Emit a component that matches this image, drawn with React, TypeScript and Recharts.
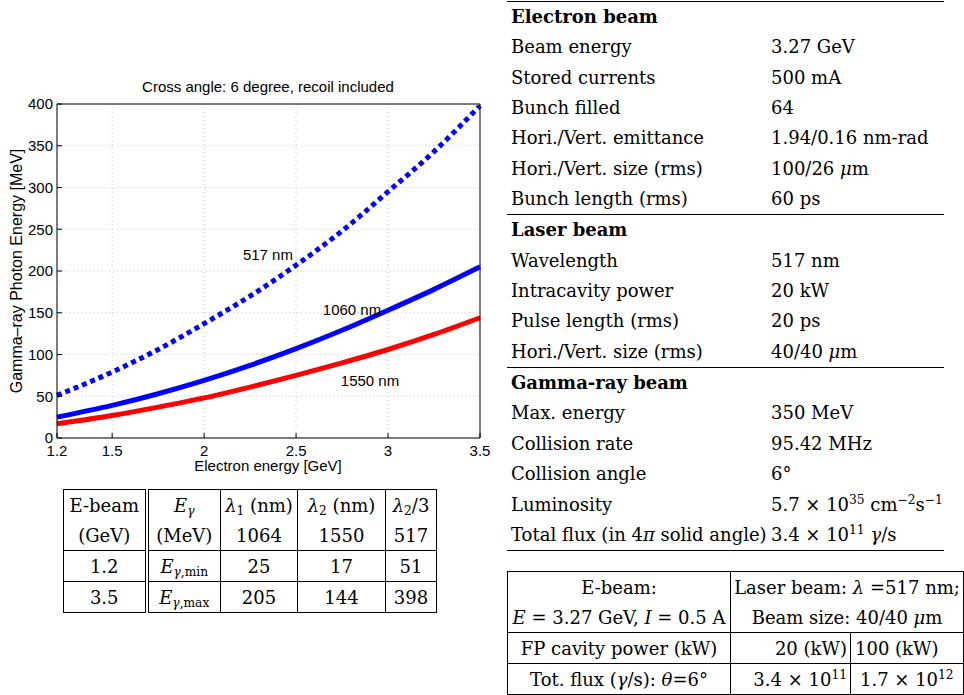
import React from 'react';
import { LineChart, Line, XAxis, YAxis, CartesianGrid, ReferenceDot } from 'recharts';

// electron energy (GeV)
const energies = [1.2, 1.5, 1.75, 2, 2.25, 2.5, 2.75, 3, 3.25, 3.5];
// gamma-ray photon energy (MeV)
const gamma1060 = [25, 39, 53, 69, 87, 107, 129, 153, 178, 205];
const gamma1550 = [17, 27, 37, 48, 61, 75, 90, 106, 124, 144];
const gamma517 = [51, 79, 106, 137, 170, 207, 248, 295, 343, 398];

const xTicks = [1.2, 1.5, 2, 2.5, 3, 3.5];
const yTicks = [0, 50, 100, 150, 200, 250, 300, 350, 400];

const data = energies.map((x, i) => ({ x, a: gamma1060[i], b: gamma1550[i], c: gamma517[i] }));

const sans = '"Liberation Sans", Arial, sans-serif';
const serif = '"DejaVu Serif", serif';

const I = ({ children }: { children: React.ReactNode }) => <span style={{ fontStyle: 'italic' }}>{children}</span>;
const Sup = ({ children }: { children: React.ReactNode }) => (
    <sup style={{ fontSize: '68%', lineHeight: 0, verticalAlign: '0.55em' }}>{children}</sup>
);
const Sub = ({ children }: { children: React.ReactNode }) => (
    <sub style={{ fontSize: '68%', lineHeight: 0, verticalAlign: '-0.25em' }}>{children}</sub>
);

// parameter table rows
const electronRows: [string, React.ReactNode][] = [
    ['Beam energy', '3.27 GeV'],
    ['Stored currents', '500 mA'],
    ['Bunch filled', '64'],
    ['Hori./Vert. emittance', '1.94/0.16 nm-rad'],
    ['Hori./Vert. size (rms)', <>100/26 <I>μ</I>m</>],
    ['Bunch length (rms)', '60 ps'],
];
const laserRows: [string, React.ReactNode][] = [
    ['Wavelength', '517 nm'],
    ['Intracavity power', '20 kW'],
    ['Pulse length (rms)', '20 ps'],
    ['Hori./Vert. size (rms)', <>40/40 <I>μ</I>m</>],
];
const gammaRows: [React.ReactNode, React.ReactNode][] = [
    ['Max. energy', '350 MeV'],
    ['Collision rate', '95.42 MHz'],
    ['Collision angle', '6°'],
    ['Luminosity', <>5.7 × 10<Sup>35</Sup> cm<Sup>−2</Sup>s<Sup>−1</Sup></>],
    [<>Total flux (in 4<I>π</I> solid angle)</>, <>3.4 × 10<Sup>11</Sup> <I>γ</I>/s</>],
];

const ROW = 30.35;

const Section = ({ title, rows, top, bottom }: { title: string; rows: [React.ReactNode, React.ReactNode][]; top: number; bottom: boolean }) => (
    <div style={{ borderTop: `${top}px solid #000`, borderBottom: bottom ? '1.3px solid #000' : 'none' }}>
        <div style={{ height: ROW, lineHeight: `${ROW}px`, paddingLeft: 4, fontWeight: 'bold' }}>{title}</div>
        {rows.map((r, i) => (
            <div key={i} style={{ height: ROW, lineHeight: `${ROW}px`, display: 'flex', whiteSpace: 'nowrap' }}>
                <div style={{ width: 260, flexShrink: 0, paddingLeft: 4 }}>{r[0]}</div>
                <div style={{ flexShrink: 0 }}>{r[1]}</div>
            </div>
        ))}
    </div>
);

const cell: React.CSSProperties = { border: '1px solid #000', padding: 0, textAlign: 'center', height: 30, whiteSpace: 'nowrap' };
const noBottom: React.CSSProperties = { ...cell, borderBottom: 'none' };
const noTop: React.CSSProperties = { ...cell, borderTop: 'none' };

const App = () => {
    return (
        <div style={{ position: 'absolute', left: 0, top: 0, width: 964, height: 695, background: '#fff', fontFamily: serif, fontSize: 18, color: '#000' }}>
            {/* chart */}
            <div style={{ position: 'absolute', left: 0, top: 0, width: 500, height: 480, fontFamily: sans }}>
                <div style={{ position: 'absolute', left: 0, width: 536, top: 78, textAlign: 'center', fontSize: 15 }}>
                    Cross angle: 6 degree, recoil included
                </div>
                <div style={{ position: 'absolute', left: 17, top: 271, transform: 'translate(-50%, -50%) rotate(-90deg)', whiteSpace: 'nowrap', fontSize: 16 }}>
                    Gamma–ray Photon Energy [MeV]
                </div>
                <div style={{ position: 'absolute', left: 0, width: 536, top: 457, textAlign: 'center', fontSize: 15 }}>
                    Electron energy [GeV]
                </div>
                <LineChart width={500} height={480} data={data} margin={{ top: 103, right: 19, bottom: 41, left: 56 }}>
                    <CartesianGrid stroke="#c8c8c8" strokeDasharray="1 3" />
                    <XAxis type="number" dataKey="x" domain={[1.2, 3.5]} ticks={xTicks} height={1} stroke="#000"
                        tickSize={-5} tickMargin={12} tick={{ fill: '#000', fontSize: 15 }} interval={0} />
                    <XAxis xAxisId="t" orientation="top" type="number" dataKey="x" domain={[1.2, 3.5]} ticks={xTicks}
                        height={1} stroke="#000" tickSize={-5} tick={false} interval={0} />
                    <YAxis type="number" domain={[0, 400]} ticks={yTicks} width={1} stroke="#000"
                        tickSize={-5} tickMargin={9} tick={{ fill: '#000', fontSize: 15 }} interval={0} />
                    <YAxis yAxisId="r" orientation="right" type="number" domain={[0, 400]} ticks={yTicks} width={1}
                        stroke="#000" tickSize={-5} tick={false} interval={0} />
                    <Line type="monotone" dataKey="c" stroke="#0000ff" strokeWidth={5} strokeDasharray="5 4" dot={false} isAnimationActive={false} />
                    <Line type="monotone" dataKey="a" stroke="#0000ff" strokeWidth={5} dot={false} isAnimationActive={false} />
                    <Line type="monotone" dataKey="b" stroke="#ff0000" strokeWidth={5} dot={false} isAnimationActive={false} />
                    <ReferenceDot x={2.347} y={220} r={0} fill="none" stroke="none"
                        label={{ value: '517 nm', position: 'center', fill: '#000', fontSize: 15 }} />
                    <ReferenceDot x={2.804} y={154} r={0} fill="none" stroke="none"
                        label={{ value: '1060 nm', position: 'center', fill: '#000', fontSize: 15 }} />
                    <ReferenceDot x={2.902} y={69} r={0} fill="none" stroke="none"
                        label={{ value: '1550 nm', position: 'center', fill: '#000', fontSize: 15 }} />
                </LineChart>
            </div>

            {/* summary table under the chart */}
            <table style={{ position: 'absolute', left: 63, top: 489, width: 373, borderCollapse: 'collapse', tableLayout: 'fixed', fontSize: 18 }}>
                <colgroup>
                    <col style={{ width: 83 }} />
                    <col style={{ width: 74 }} />
                    <col style={{ width: 77 }} />
                    <col style={{ width: 88 }} />
                    <col style={{ width: 51 }} />
                </colgroup>
                <tbody>
                    <tr>
                        <td style={{ ...noBottom, borderRight: '4px double #000' }}>E-beam</td>
                        <td style={noBottom}><I>E</I><Sub><I>γ</I></Sub></td>
                        <td style={noBottom}><I>λ</I><Sub>1</Sub> (nm)</td>
                        <td style={noBottom}><I>λ</I><Sub>2</Sub> (nm)</td>
                        <td style={noBottom}><I>λ</I><Sub>2</Sub>/3</td>
                    </tr>
                    <tr>
                        <td style={{ ...noTop, borderRight: '4px double #000' }}>(GeV)</td>
                        <td style={noTop}>(MeV)</td>
                        <td style={noTop}>1064</td>
                        <td style={noTop}>1550</td>
                        <td style={noTop}>517</td>
                    </tr>
                    <tr>
                        <td style={{ ...cell, borderRight: '4px double #000' }}>1.2</td>
                        <td style={cell}><I>E</I><Sub><I>γ</I>,min</Sub></td>
                        <td style={cell}>25</td>
                        <td style={cell}>17</td>
                        <td style={cell}>51</td>
                    </tr>
                    <tr>
                        <td style={{ ...cell, borderRight: '4px double #000' }}>3.5</td>
                        <td style={cell}><I>E</I><Sub><I>γ</I>,max</Sub></td>
                        <td style={cell}>205</td>
                        <td style={cell}>144</td>
                        <td style={cell}>398</td>
                    </tr>
                </tbody>
            </table>

            {/* parameter table */}
            <div style={{ position: 'absolute', left: 507, top: 1, width: 437 }}>
                <Section title="Electron beam" rows={electronRows} top={1.3} bottom={false} />
                <Section title="Laser beam" rows={laserRows} top={1} bottom={false} />
                <Section title="Gamma-ray beam" rows={gammaRows} top={1} bottom={true} />
            </div>

            {/* flux table */}
            <table style={{ position: 'absolute', left: 507, top: 571, width: 456, borderCollapse: 'collapse', tableLayout: 'fixed', fontSize: 18 }}>
                <colgroup>
                    <col style={{ width: 223 }} />
                    <col style={{ width: 120 }} />
                    <col style={{ width: 113 }} />
                </colgroup>
                <tbody>
                    <tr>
                        <td style={noBottom}>E-beam:</td>
                        <td style={noBottom} colSpan={2}>Laser beam: <I>λ</I> =517 nm;</td>
                    </tr>
                    <tr>
                        <td style={noTop}><I>E</I> = 3.27 GeV, <I>I</I> = 0.5 A</td>
                        <td style={noTop} colSpan={2}>Beam size: 40/40 <I>μ</I>m</td>
                    </tr>
                    <tr>
                        <td style={cell}>FP cavity power (kW)</td>
                        <td style={{ ...cell, textAlign: 'right', paddingRight: 3 }}>20 (kW)</td>
                        <td style={{ ...cell, textAlign: 'left', paddingLeft: 4 }}>100 (kW)</td>
                    </tr>
                    <tr>
                        <td style={cell}>Tot. flux (<I>γ</I>/s): <I>θ</I>=6°</td>
                        <td style={{ ...cell, textAlign: 'right', paddingRight: 3 }}>3.4 × 10<Sup>11</Sup></td>
                        <td style={{ ...cell, textAlign: 'left', paddingLeft: 9 }}>1.7 × 10<Sup>12</Sup></td>
                    </tr>
                </tbody>
            </table>
        </div>
    );
};

export default App;
